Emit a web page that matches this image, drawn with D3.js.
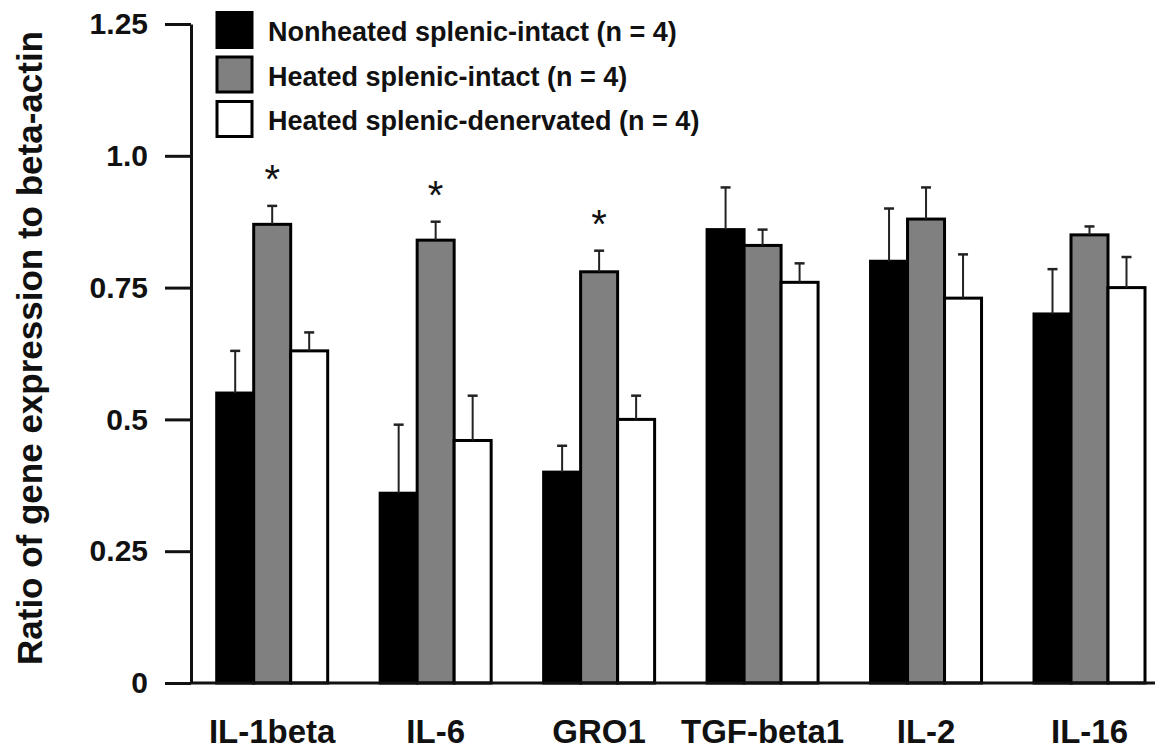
<!DOCTYPE html>
<html>
<head>
<meta charset="utf-8">
<script src="https://cdn.jsdelivr.net/npm/d3@7"></script>
<style>
  html, body { margin: 0; padding: 0; background: #fff; }
  svg { display: block; }
  text { font-family: "Liberation Sans", Arial, Helvetica, sans-serif; fill: #111; }
</style>
</head>
<body>
<svg id="chart" width="1163" height="750"></svg>
<script>
const categories = ["IL-1beta", "IL-6", "GRO1", "TGF-beta1", "IL-2", "IL-16"];
const seriesKeys = ["nonheated", "heatedIntact", "heatedDenervated"];
const seriesNames = [
  "Nonheated splenic-intact (n = 4)",
  "Heated splenic-intact (n = 4)",
  "Heated splenic-denervated (n = 4)"
];
const seriesColors = ["#000000", "#808080", "#ffffff"];

const nonheated        = [0.55, 0.36, 0.40, 0.86, 0.80, 0.70];
const nonheatedErr     = [0.08, 0.13, 0.05, 0.08, 0.10, 0.085];
const heatedIntact     = [0.87, 0.84, 0.78, 0.83, 0.88, 0.85];
const heatedIntactErr  = [0.035, 0.035, 0.04, 0.03, 0.06, 0.016];
const heatedDenerv     = [0.63, 0.46, 0.50, 0.76, 0.73, 0.75];
const heatedDenervErr  = [0.035, 0.085, 0.045, 0.036, 0.083, 0.058];

const significant = ["IL-1beta", "IL-6", "GRO1"];

const yTicks = [0, 0.25, 0.5, 0.75, 1.0, 1.25];
const yTickLabels = ["0", "0.25", "0.5", "0.75", "1.0", "1.25"];
const yTitle = "Ratio of gene expression to beta-actin";

const values = { nonheated: nonheated, heatedIntact: heatedIntact, heatedDenervated: heatedDenerv };
const errors = { nonheated: nonheatedErr, heatedIntact: heatedIntactErr, heatedDenervated: heatedDenervErr };

const svg = d3.select("#chart");

const y = d3.scaleLinear().domain([0, 1.25]).range([683, 24]);
const x = d3.scaleBand().domain(categories).range([216.7, 1145]).paddingInner(0.321).paddingOuter(0);
const xs = d3.scaleBand().domain(seriesKeys).range([0, x.bandwidth()]).padding(0);
const color = d3.scaleOrdinal().domain(seriesKeys).range(seriesColors);

const axisX = 191;

const rows = [];
categories.forEach((c, i) => {
  seriesKeys.forEach(k => {
    rows.push({ cat: c, key: k, v: values[k][i], e: errors[k][i] });
  });
});

// bars
svg.append("g").selectAll("rect").data(rows).join("rect")
  .attr("x", d => x(d.cat) + xs(d.key))
  .attr("y", d => y(d.v))
  .attr("width", xs.bandwidth())
  .attr("height", d => y(0) - y(d.v))
  .attr("fill", d => color(d.key))
  .attr("stroke", "#000")
  .attr("stroke-width", 3);

// error bars
const eg = svg.append("g").attr("stroke", "#222").attr("stroke-width", 2);
eg.selectAll("line.stem").data(rows).join("line").attr("class", "stem")
  .attr("x1", d => x(d.cat) + xs(d.key) + xs.bandwidth() / 2)
  .attr("x2", d => x(d.cat) + xs(d.key) + xs.bandwidth() / 2)
  .attr("y1", d => y(d.v))
  .attr("y2", d => y(d.v + d.e));
eg.selectAll("line.cap").data(rows).join("line").attr("class", "cap")
  .attr("x1", d => x(d.cat) + xs(d.key) + xs.bandwidth() / 2 - 5)
  .attr("x2", d => x(d.cat) + xs(d.key) + xs.bandwidth() / 2 + 5)
  .attr("y1", d => y(d.v + d.e))
  .attr("y2", d => y(d.v + d.e))
  .attr("stroke-width", 2.5);

// significance stars
svg.append("g").selectAll("text").data(rows.filter(d => d.key === "heatedIntact" && significant.includes(d.cat)))
  .join("text")
  .attr("x", d => x(d.cat) + xs(d.key) + xs.bandwidth() / 2)
  .attr("y", d => y(d.v + d.e) - 36 + 23)
  .attr("text-anchor", "middle")
  .attr("font-size", 40)
  .text("*");

// y axis
const yAxis = svg.append("g").attr("transform", `translate(${axisX},0)`)
  .call(d3.axisLeft(y).tickValues(yTicks).tickFormat((d, i) => yTickLabels[i]).tickSize(26).tickSizeOuter(0).tickPadding(17));
yAxis.select(".domain").attr("stroke", "#111").attr("stroke-width", 3);
yAxis.selectAll(".tick line").attr("stroke", "#111").attr("stroke-width", 3);
yAxis.selectAll(".tick text").attr("font-size", 30).attr("font-weight", "bold").attr("fill", "#111")
  .style("font-family", '"Liberation Sans", Arial, sans-serif');

// x axis
svg.append("line").attr("x1", axisX).attr("x2", 1155).attr("y1", y(0)).attr("y2", y(0))
  .attr("stroke", "#111").attr("stroke-width", 3);
const xAxis = svg.append("g").attr("transform", `translate(0,${y(0)})`)
  .call(d3.axisBottom(x).tickSize(0).tickPadding(37));
xAxis.select(".domain").remove();
xAxis.selectAll(".tick text").attr("font-size", 33).attr("font-weight", "bold").attr("fill", "#111")
  .style("font-family", '"Liberation Sans", Arial, sans-serif');

// y title
svg.append("text")
  .attr("transform", "translate(42,348) rotate(-90)")
  .attr("text-anchor", "middle")
  .attr("font-size", 35)
  .attr("font-weight", "bold")
  .text(yTitle);

// legend
const lg = svg.append("g");
seriesKeys.forEach((k, i) => {
  const yy = 12.5 + i * 44.5;
  lg.append("rect").attr("x", 217).attr("y", yy).attr("width", 35).attr("height", 35)
    .attr("fill", color(k)).attr("stroke", "#000").attr("stroke-width", 3);
  lg.append("text").attr("x", 268).attr("y", yy + 28.5)
    .attr("font-size", 27).attr("font-weight", "bold").text(seriesNames[i]);
});
</script>
</body>
</html>
